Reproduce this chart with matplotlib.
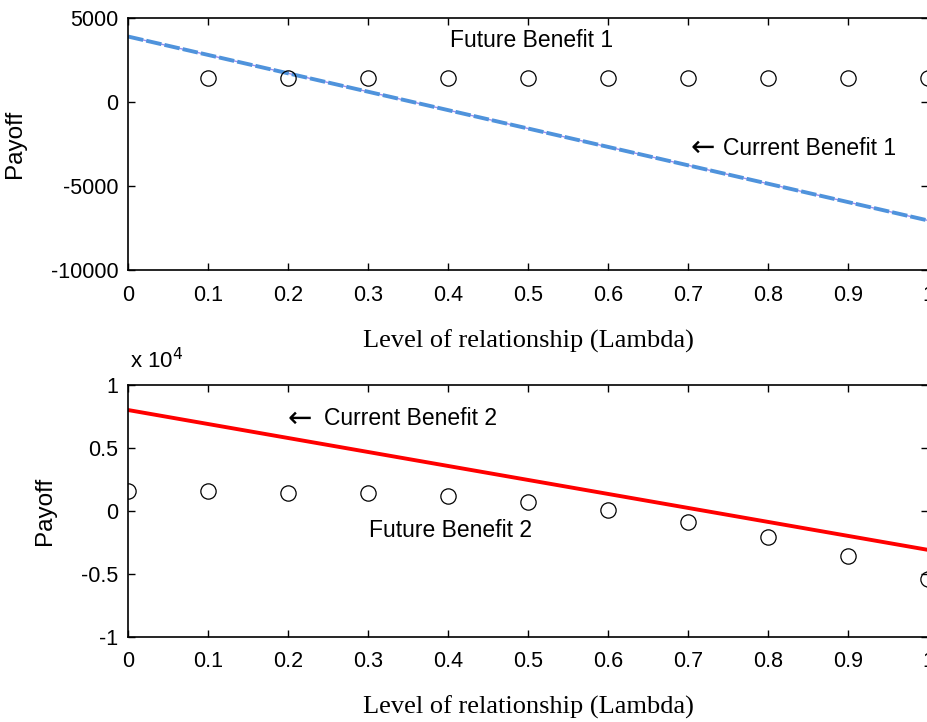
import numpy as np
import matplotlib
matplotlib.use("Agg")
import matplotlib.pyplot as plt
from matplotlib.transforms import offset_copy

plt.rcParams['font.family'] = ['Liberation Sans', 'DejaVu Sans']
plt.rcParams['axes.unicode_minus'] = False

# lambda values
lam = [0, 0.1, 0.2, 0.3, 0.4, 0.5, 0.6, 0.7, 0.8, 0.9, 1.0]

# top panel
future1_x = [0.1, 0.2, 0.3, 0.4, 0.5, 0.6, 0.7, 0.8, 0.9, 1.0]
future1 = [1450, 1450, 1450, 1450, 1450, 1450, 1450, 1450, 1450, 1450]
current1_x = [0, 1]
current1 = [3900, -7050]

# bottom panel (payoff in units of 10^4)
future2 = [0.159, 0.159, 0.143, 0.143, 0.119, 0.071, 0.008, -0.087, -0.206, -0.357, -0.54]
current2_x = [0, 1]
current2 = [0.80, -0.31]

xticks = [0, 0.1, 0.2, 0.3, 0.4, 0.5, 0.6, 0.7, 0.8, 0.9, 1]
xticklabels = ['0', '0.1', '0.2', '0.3', '0.4', '0.5', '0.6', '0.7', '0.8', '0.9', '1']

fig = plt.figure(figsize=(9.28, 7.22), dpi=100)
ax1 = fig.add_axes([0.138, 0.626, 0.862, 0.349])
ax2 = fig.add_axes([0.138, 0.118, 0.862, 0.349])

for ax in (ax1, ax2):
    ax.set_xlim(0, 1)
    ax.set_xticks(xticks)
    ax.set_xticklabels(xticklabels)
    ax.tick_params(direction='in', length=5, width=1, top=True, right=True,
                   labelsize=15.5)
    ax.tick_params(axis='x', pad=10.5)
    ax.tick_params(axis='y', pad=7)
    for s in ax.spines.values():
        s.set_linewidth(1.2)
    ax.set_xlabel('Level of relationship (Lambda)', family='Liberation Serif',
                  fontsize=19, labelpad=17)
    ax.set_ylabel('Payoff', fontsize=17.5)


def arrow_label(ax, x, y, label, shift):
    # MATLAB-style "<- label" with a wide arrow
    ax.text(x, y, '\u2190', family='DejaVu Sans', fontsize=21, ha='left', va='center')
    tr = offset_copy(ax.transData, fig=fig, x=shift, y=0, units='dots')
    ax.text(x, y, label, transform=tr, ha='left', va='center', fontsize=16.5)


# top
ax1.plot(current1_x, current1, color='#9a8cf0', lw=1)
ax1.plot(current1_x, current1, color='#4f93dc', lw=2.8, ls=(0, (4, 0.8)))
ax1.plot(future1_x, future1, 'o', mfc='none', mec='black', ms=11, mew=0.9)
ax1.set_ylim(-10000, 5000)
ax1.set_yticks([-10000, -5000, 0, 5000])
ax1.text(0.505, 3650, 'Future Benefit 1', ha='center', va='center', fontsize=16.5)
arrow_label(ax1, 0.703, -2750, 'Current Benefit 1', 33)
ax1.yaxis.set_label_coords(-0.128, 0.5)

# bottom
ax2.plot(current2_x, current2, color='red', lw=2.8)
ax2.plot(lam, future2, 'o', mfc='none', mec='black', ms=11, mew=0.9)
ax2.set_ylim(-1, 1)
ax2.set_yticks([-1, -0.5, 0, 0.5, 1])
ax2.set_yticklabels(['-1', '-0.5', '0', '0.5', '1'])
arrow_label(ax2, 0.2, 0.73, 'Current Benefit 2', 36)
ax2.text(0.301, -0.16, 'Future Benefit 2', ha='left', va='center', fontsize=16.5)
ax2.text(0.002, 1.045, 'x 10$^{4}$', transform=ax2.transAxes, ha='left', va='bottom',
         fontsize=16)
ax2.yaxis.set_label_coords(-0.09, 0.5)

fig.savefig('out.png', dpi=100)
